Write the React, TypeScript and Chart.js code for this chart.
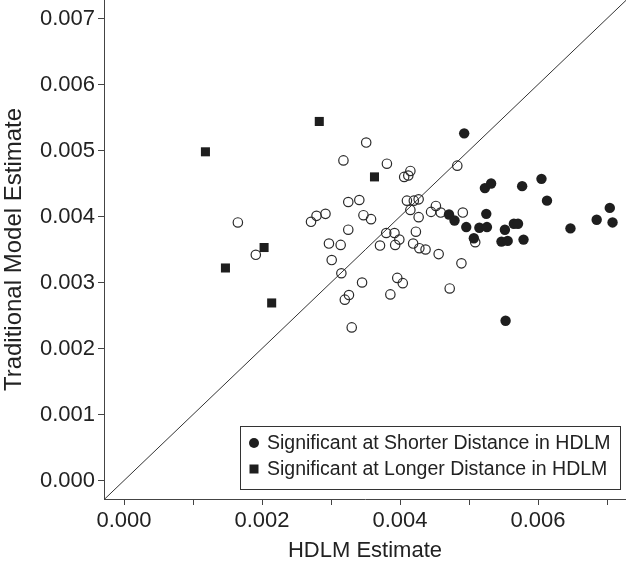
import React, { useEffect, useRef } from 'react';
import { Chart, registerables } from 'chart.js';

Chart.register(...registerables);

const FONT = '"Liberation Sans", Arial, Helvetica, sans-serif';

// Not significant (open circles)
const openX = [0.00318, 0.00351, 0.00381, 0.00483, 0.00415, 0.00412, 0.00406, 0.00325, 0.00341, 0.00165, 0.00271, 0.00279, 0.00292, 0.00347, 0.00358, 0.00325, 0.00297, 0.00314, 0.00380, 0.00392, 0.00371, 0.00393, 0.00399, 0.00191, 0.00301, 0.00315, 0.00345, 0.00326, 0.00320, 0.00330, 0.00396, 0.00404, 0.00386, 0.00472, 0.00489, 0.00456, 0.00410, 0.00420, 0.00427, 0.00415, 0.00427, 0.00445, 0.00452, 0.00459, 0.00491, 0.00423, 0.00419, 0.00428, 0.00437, 0.00509];
const openY = [0.00485, 0.00512, 0.00480, 0.00477, 0.00469, 0.00462, 0.00460, 0.00422, 0.00425, 0.00391, 0.00392, 0.00401, 0.00404, 0.00402, 0.00396, 0.00380, 0.00359, 0.00357, 0.00375, 0.00375, 0.00356, 0.00357, 0.00365, 0.00342, 0.00334, 0.00314, 0.00300, 0.00281, 0.00274, 0.00232, 0.00307, 0.00299, 0.00282, 0.00291, 0.00329, 0.00343, 0.00424, 0.00424, 0.00426, 0.00410, 0.00399, 0.00407, 0.00416, 0.00406, 0.00406, 0.00377, 0.00359, 0.00352, 0.00350, 0.00361];

// Significant at shorter distance in HDLM (filled circles)
const shorterX = [0.00493, 0.00523, 0.00532, 0.00577, 0.00605, 0.00613, 0.00471, 0.00479, 0.00525, 0.00496, 0.00515, 0.00526, 0.00552, 0.00565, 0.00571, 0.00507, 0.00547, 0.00556, 0.00579, 0.00647, 0.00685, 0.00704, 0.00708, 0.00553];
const shorterY = [0.00526, 0.00443, 0.00450, 0.00446, 0.00457, 0.00424, 0.00403, 0.00394, 0.00404, 0.00384, 0.00383, 0.00384, 0.00380, 0.00389, 0.00389, 0.00367, 0.00362, 0.00363, 0.00365, 0.00382, 0.00395, 0.00413, 0.00391, 0.00242];

// Significant at longer distance in HDLM (filled squares)
const longerX = [0.00118, 0.00283, 0.00363, 0.00203, 0.00147, 0.00214];
const longerY = [0.00498, 0.00544, 0.00460, 0.00353, 0.00322, 0.00269];

// y = x reference line
const diagonal = [-0.001, 0.008];

const xTicks = [0, 0.001, 0.002, 0.003, 0.004, 0.005, 0.006, 0.007];
const yTicks = [0, 0.001, 0.002, 0.003, 0.004, 0.005, 0.006, 0.007];
const xRange = [-0.00029, 0.007275];
const yRange = [-0.00028, 0.00728];

const xTitle = 'HDLM Estimate';
const yTitle = 'Traditional Model Estimate';
const legendLabels = ['Significant at Shorter Distance in HDLM', 'Significant at Longer Distance in HDLM'];

const INK = '#1e1e1e';
const AXIS = '#444444';

const toPoints = (xs: number[], ys: number[]) => xs.map((x, i) => ({ x, y: ys[i] }));

const boxLegend = {
  id: 'boxLegend',
  afterDraw(chart: any) {
    const { ctx, chartArea } = chart;
    const w = 381;
    const h = 64;
    const right = chartArea.right - 5;
    const bottom = chartArea.bottom - 9;
    const left = right - w;
    const top = bottom - h;
    ctx.save();
    ctx.fillStyle = '#ffffff';
    ctx.fillRect(left, top, w, h);
    ctx.strokeStyle = '#333333';
    ctx.lineWidth = 1;
    ctx.strokeRect(Math.round(left) + 0.5, Math.round(top) + 0.5, w - 1, h - 1);
    ctx.font = `19.5px ${FONT}`;
    ctx.textBaseline = 'middle';
    ctx.textAlign = 'left';
    const rowY = [top + 17, top + 43];
    const mx = left + 14;
    ctx.fillStyle = INK;
    ctx.beginPath();
    ctx.arc(mx, rowY[0], 5, 0, Math.PI * 2);
    ctx.fill();
    ctx.fillRect(mx - 4.5, rowY[1] - 4.5, 9, 9);
    ctx.fillStyle = '#222222';
    ctx.fillText(legendLabels[0], left + 27, rowY[0] + 1);
    ctx.fillText(legendLabels[1], left + 27, rowY[1] + 1);
    ctx.restore();
  },
};

export default function App() {
  const ref = useRef<HTMLCanvasElement | null>(null);

  useEffect(() => {
    if (!ref.current) return;
    const chart = new Chart(ref.current, {
      type: 'scatter',
      data: {
        datasets: [
          {
            label: legendLabels[0],
            data: toPoints(shorterX, shorterY),
            pointStyle: 'circle',
            pointRadius: 5.2,
            pointBackgroundColor: INK,
            pointBorderColor: INK,
            pointBorderWidth: 0,
            order: 1,
          },
          {
            label: legendLabels[1],
            data: toPoints(longerX, longerY),
            pointStyle: 'rect',
            pointRadius: 6.4,
            pointBackgroundColor: INK,
            pointBorderColor: INK,
            pointBorderWidth: 0,
            order: 2,
          },
          {
            label: 'Not significant',
            data: toPoints(openX, openY),
            pointStyle: 'circle',
            pointRadius: 4.7,
            pointBackgroundColor: 'rgba(255,255,255,0)',
            pointBorderColor: '#2a2a2a',
            pointBorderWidth: 1.2,
            order: 3,
          },
          {
            type: 'line',
            label: 'y = x',
            data: diagonal.map((v) => ({ x: v, y: v })),
            borderColor: '#333333',
            borderWidth: 1,
            pointRadius: 0,
            fill: false,
            order: 4,
          } as any,
        ],
      },
      options: {
        responsive: false,
        animation: false,
        devicePixelRatio: 1,
        layout: { padding: 0, autoPadding: false },
        plugins: {
          legend: { display: false },
          tooltip: { enabled: false },
        },
        scales: {
          x: {
            type: 'linear',
            min: xRange[0],
            max: xRange[1],
            afterBuildTicks: (scale: any) => {
              scale.ticks = xTicks.map((v) => ({ value: v }));
            },
            afterFit: (scale: any) => {
              scale.height = 68;
              scale.paddingLeft = 0;
              scale.paddingRight = 0;
            },
            ticks: {
              autoSkip: false,
              maxRotation: 0,
              padding: 3,
              color: '#222222',
              font: { family: FONT, size: 22 },
              callback: (value: any) => {
                const v = Number(value);
                return Math.round(v * 1000) % 2 === 0 ? v.toFixed(3) : '';
              },
            },
            grid: {
              drawOnChartArea: false,
              drawTicks: true,
              tickLength: 6,
              color: AXIS,
              lineWidth: 1,
            },
            border: { display: true, color: AXIS, width: 1 },
            title: {
              display: true,
              text: xTitle,
              color: '#222222',
              font: { family: FONT, size: 22 },
              padding: { top: 0, bottom: 3 },
            },
          },
          y: {
            type: 'linear',
            min: yRange[0],
            max: yRange[1],
            afterBuildTicks: (scale: any) => {
              scale.ticks = yTicks.map((v) => ({ value: v }));
            },
            afterFit: (scale: any) => {
              scale.width = 104;
              scale.paddingTop = 0;
              scale.paddingBottom = 0;
            },
            ticks: {
              autoSkip: false,
              padding: 3,
              color: '#222222',
              font: { family: FONT, size: 22 },
              callback: (value: any) => Number(value).toFixed(3),
            },
            grid: {
              drawOnChartArea: false,
              drawTicks: true,
              tickLength: 6,
              color: AXIS,
              lineWidth: 1,
            },
            border: { display: true, color: AXIS, width: 1 },
            title: {
              display: true,
              text: yTitle,
              color: '#222222',
              font: { family: FONT, size: 24 },
              padding: { top: 0, bottom: 0 },
            },
          },
        },
      },
      plugins: [boxLegend],
    });
    return () => chart.destroy();
  }, []);

  return (
    <div style={{ position: 'fixed', left: 0, top: 0, width: 626, height: 567, background: '#ffffff' }}>
      <canvas ref={ref} width={626} height={567} style={{ display: 'block', width: 626, height: 567 }} />
    </div>
  );
}
